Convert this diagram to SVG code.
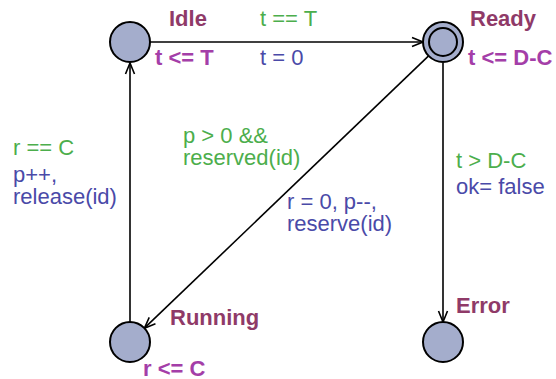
<svg xmlns="http://www.w3.org/2000/svg" width="556" height="379" viewBox="0 0 556 379">
<defs>
<style>
text{font-family:"Liberation Sans",Arial,Helvetica,sans-serif;font-size:22px}
.nm{font-weight:bold;fill:#8f3a68}
.inv{font-weight:bold;fill:#a43ea8}
.g{fill:#4cae4c}
.u{fill:#4a4aa8}
.loc{fill:#a4adcc;stroke:#000;stroke-width:2}
.e{fill:none;stroke:#000;stroke-width:1.6}
</style>
<marker id="arr" markerUnits="userSpaceOnUse" viewBox="-12 -6 13 12" refX="0" refY="0" markerWidth="13" markerHeight="12" orient="auto">
<path d="M-11,-4.5 L0,0 L-11,4.5" fill="none" stroke="#000" stroke-width="1.6"/>
</marker>
</defs>
<g id="edges">
<line class="e" x1="150" y1="42" x2="423" y2="42" marker-end="url(#arr)"/>
<line class="e" x1="130" y1="322" x2="130" y2="63" marker-end="url(#arr)"/>
<line class="e" x1="428.6" y1="55.8" x2="144.4" y2="328.2" marker-end="url(#arr)"/>
<line class="e" x1="443" y1="63" x2="443" y2="322" marker-end="url(#arr)"/>
</g>
<g id="labels">
<text class="g" x="260" y="26">t == T</text>
<text class="u" x="260" y="65">t = 0</text>
<text class="g" x="13" y="155">r == C</text>
<text class="u" x="13" y="182">p++,</text>
<text class="u" x="13" y="204">release(id)</text>
<text class="g" x="183" y="143">p &gt; 0 &amp;&amp;</text>
<text class="g" x="183" y="165">reserved(id)</text>
<text class="u" x="287" y="209">r = 0, p--,</text>
<text class="u" x="287" y="231">reserve(id)</text>
<text class="g" x="456" y="168">t &gt; D-C</text>
<text class="u" x="456" y="194">ok= false</text>
</g>
<g id="Idle">
<circle class="loc" cx="130" cy="42" r="20"/>
<text class="nm" x="169" y="26">Idle</text>
<text class="inv" x="155" y="65">t &lt;= T</text>
</g>
<g id="Ready">
<circle class="loc" cx="443" cy="42" r="20"/>
<circle class="loc" cx="443" cy="42" r="14"/>
<text class="nm" x="470" y="26">Ready</text>
<text class="inv" x="468" y="65">t &lt;= D-C</text>
</g>
<g id="Running">
<circle class="loc" cx="130" cy="342" r="20"/>
<text class="nm" x="170" y="325">Running</text>
<text class="inv" x="143" y="376">r &lt;= C</text>
</g>
<g id="Error">
<circle class="loc" cx="443" cy="342" r="20"/>
<text class="nm" x="456" y="313">Error</text>
</g>
</svg>
